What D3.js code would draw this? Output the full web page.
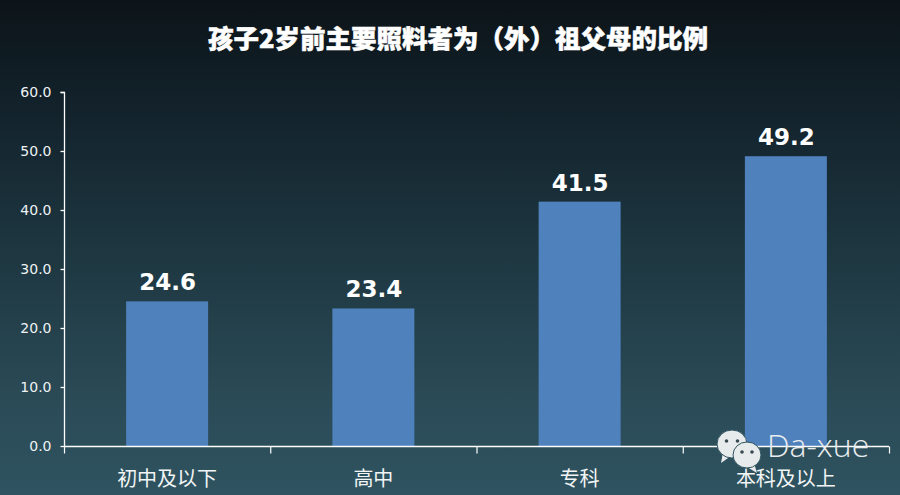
<!DOCTYPE html>
<html><head><meta charset="utf-8">
<script src="https://cdn.jsdelivr.net/npm/d3@7/dist/d3.min.js"></script>
<style>html,body{margin:0;padding:0;background:#0d161b}svg{display:block}</style>
</head><body><svg id="c" width="900" height="495"></svg>
<script>
const titleText = "孩子2岁前主要照料者为（外）祖父母的比例";
const categories = ["初中及以下","高中","专科","本科及以上"];
const values = [24.6,23.4,41.5,49.2];
const yTicks = [0,10,20,30,40,50,60];
const watermark = "Da-xue";

const W=900,H=495,plotL=64,plotR=889,plotT=92,plotB=446;
const svg=d3.select("#c");
const cjk='"Noto Sans CJK SC","Noto Sans",sans-serif';
const latin='"DejaVu Sans",sans-serif';
const defs=svg.append("defs");
const g=defs.append("linearGradient").attr("id","bg").attr("x1",0).attr("y1",0).attr("x2",0).attr("y2",1);
[[0,"#0c1418"],[0.2,"#12212a"],[0.5,"#1d3640"],[0.8,"#2a4a56"],[1,"#2f5360"]].forEach(s=>g.append("stop").attr("offset",s[0]).attr("stop-color",s[1]));
svg.append("rect").attr("width",W).attr("height",H).attr("fill","url(#bg)");

const xOuter=d3.scaleBand().domain(categories).range([plotL,plotR]);
const y=d3.scaleLinear().domain([0,60]).range([plotB,plotT]);

svg.append("text").attr("x",458).attr("y",47.5).attr("text-anchor","middle")
  .attr("font-family",cjk).attr("font-size",25.5).attr("font-weight",900).attr("fill","#fff")
  .attr("stroke","#fff").attr("stroke-width",0.5).text(titleText);

svg.selectAll("rect.bar").data(values).join("rect").attr("class","bar")
  .attr("x",(d,i)=>xOuter(categories[i])+xOuter.bandwidth()/2-41)
  .attr("width",82)
  .attr("y",d=>y(d)+0.5).attr("height",d=>plotB-y(d)-0.5).attr("fill","#4f81bd");

svg.selectAll("text.val").data(values).join("text").attr("class","val")
  .attr("x",(d,i)=>xOuter(categories[i])+xOuter.bandwidth()/2+0.5)
  .attr("y",d=>y(d)-10.5).attr("text-anchor","middle")
  .attr("font-family",latin).attr("font-size",23).attr("font-weight",700).attr("fill","#fff")
  .text(d=>d.toFixed(1));

const ya=svg.append("g").attr("transform",`translate(${plotL+0.5},0)`)
  .call(d3.axisLeft(y).tickValues(yTicks).tickSize(4).tickPadding(9).tickFormat(d3.format(".1f")));
ya.selectAll("path,line").attr("stroke","#fff").attr("stroke-width",1.3);
ya.select("path").attr("d",`M-4,${plotT+0.5}H0V${plotB+0.5}`).attr("fill","none");
ya.selectAll("text").attr("font-family",latin).attr("font-size",14).attr("fill","#eef2f3").attr("dy","0.32em");

const xa=svg.append("g").attr("transform",`translate(0,${plotB+0.5})`);
xa.append("line").attr("x1",plotL).attr("x2",plotR).attr("stroke","#fff").attr("stroke-width",1.3);
const edges=categories.map(c=>xOuter(c)).concat([plotR]);
xa.selectAll("line.t").data(edges).join("line").attr("class","t")
  .attr("x1",d=>d+0.5).attr("x2",d=>d+0.5).attr("y1",0).attr("y2",7).attr("stroke","#fff").attr("stroke-width",1.2);
xa.selectAll("text").data(categories).join("text")
  .attr("x",c=>xOuter(c)+xOuter.bandwidth()/2).attr("y",39).attr("text-anchor","middle")
  .attr("font-family",cjk).attr("font-size",20).attr("fill","#f2f5f6").text(c=>c);

// WeChat-style watermark
function bubble(cx,cy,rx,ry,tail,eyeDx){
  const b=svg.append("g").attr("transform",`translate(${cx},${cy})`);
  b.append("path").attr("d",tail).attr("fill","#e8ebec");
  b.append("ellipse").attr("rx",rx).attr("ry",ry).attr("fill","#e8ebec").attr("stroke","#2f5360").attr("stroke-width",1);
  [-eyeDx,eyeDx].forEach(d=>b.append("circle").attr("cx",d).attr("cy",-3).attr("r",1.8).attr("fill","#3a4a52"));
}
bubble(732,444,15,14,"M-9,8L-11,19L-1,12Z",5.5);
bubble(747,455,14,13,"M7,8L10,18L0,12Z",5);
svg.append("text").attr("x",767).attr("y",457).attr("font-family",'"Open Sans","Noto Sans",sans-serif')
  .attr("font-size",32).attr("font-weight",300).attr("fill","#e8ecee").text(watermark);
</script></body></html>
